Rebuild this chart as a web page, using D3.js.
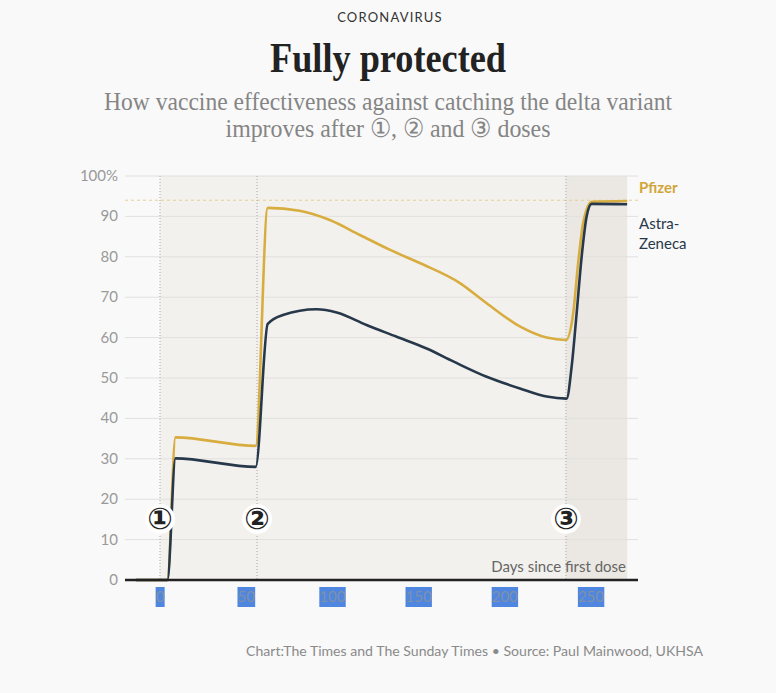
<!DOCTYPE html>
<html><head><meta charset="utf-8">
<script src="https://cdn.jsdelivr.net/npm/d3@7"></script>
<style>
body{margin:0;background:#f9f9f9;}
svg{display:block;}
</style></head>
<body>
<svg id="chart" width="776" height="693"></svg>
<script>
const pfizerDays = [-14, 4.3, 9, 55.5, 62.5, 81, 98.5, 116, 133.5, 151, 174, 189.5, 209, 224.3, 235.5, 239.7, 242.6, 245.5, 250.4, 271];
const pfizerValues = [0, 0, 35.3, 33.2, 92.1, 91.4, 89.1, 85.4, 81.7, 78.4, 73.5, 68.5, 62.7, 60, 59.4, 66, 78.5, 88.4, 93.6, 93.8];
const astraDays = [-14, 4.3, 9, 55.5, 62.5, 71.3, 90.9, 102.5, 119.8, 137.3, 154.7, 170.1, 189.5, 208.8, 224.3, 235.9, 238.8, 241.7, 244.6, 247.5, 250.4, 271];
const astraValues = [0, 0, 30.1, 28, 63.4, 65.6, 67, 66.2, 63.1, 60.2, 57.3, 54.1, 50.3, 47.4, 45.4, 44.9, 52.8, 66, 80, 90, 93.1, 93];
const yTicks = [0, 10, 20, 30, 40, 50, 60, 70, 80, 90, 100];
const xTicks = [0, 50, 100, 150, 200, 250];
const doseDays = [0, 56.3, 235.5];
const doseLabels = ["①", "②", "③"];
const shadeEnd = 271;
const referenceLevel = 94;

const svg = d3.select("#chart");
const x = d3.scaleLinear().domain([-20.3, 277.3]).range([125, 638]);
const y = d3.scaleLinear().domain([0, 100]).range([580, 176]);

// header
svg.append("text").attr("x", 390).attr("y", 22).attr("text-anchor", "middle")
  .attr("font-family", "Lato").attr("font-size", 13).attr("letter-spacing", 1.2)
  .attr("fill", "#333").text("CORONAVIRUS");
svg.append("text").attr("x", 388).attr("y", 72).attr("text-anchor", "middle")
  .attr("font-family", "Liberation Serif").attr("font-weight", "bold").attr("font-size", 42)
  .attr("textLength", 236).attr("lengthAdjust", "spacingAndGlyphs")
  .attr("fill", "#222").text("Fully protected");
svg.append("text").attr("x", 388).attr("y", 110).attr("text-anchor", "middle")
  .attr("font-family", "Liberation Serif").attr("font-size", 26)
  .attr("textLength", 568).attr("lengthAdjust", "spacingAndGlyphs")
  .attr("fill", "#858585").text("How vaccine effectiveness against catching the delta variant");
svg.append("text").attr("x", 388).attr("y", 137).attr("text-anchor", "middle")
  .attr("font-family", "Liberation Serif").attr("font-size", 26)
  .attr("textLength", 325).attr("lengthAdjust", "spacingAndGlyphs")
  .attr("fill", "#858585").text("improves after ①, ② and ③ doses");

// shading
svg.append("rect").attr("x", x(doseDays[0])).attr("y", y(100))
  .attr("width", x(doseDays[2]) - x(doseDays[0])).attr("height", y(0) - y(100)).attr("fill", "#f3f1ee");
svg.append("rect").attr("x", x(doseDays[2])).attr("y", y(100))
  .attr("width", x(shadeEnd) - x(doseDays[2])).attr("height", y(0) - y(100)).attr("fill", "#ebe8e3");

// grid
svg.append("g").selectAll("line").data(yTicks.filter(d => d > 0)).join("line")
  .attr("x1", 125).attr("x2", 638).attr("y1", d => y(d)).attr("y2", d => y(d))
  .attr("stroke", "#e2e0dd").attr("stroke-width", 1);
svg.append("g").selectAll("text").data(yTicks).join("text")
  .attr("x", 118).attr("y", d => y(d) + 5).attr("text-anchor", "end")
  .attr("font-family", "Lato").attr("font-size", 15).attr("fill", "#999")
  .text(d => d === 100 ? "100%" : d);

// reference dashed line
svg.append("line").attr("x1", 125).attr("x2", 638).attr("y1", y(referenceLevel)).attr("y2", y(referenceLevel))
  .attr("stroke", "#e6cd95").attr("stroke-width", 1).attr("stroke-dasharray", "3,3");

// dose lines
svg.append("g").selectAll("line").data(doseDays).join("line")
  .attr("x1", d => x(d)).attr("x2", d => x(d)).attr("y1", y(100)).attr("y2", y(0))
  .attr("stroke", "#aaa").attr("stroke-width", 1).attr("stroke-dasharray", "1,2");

// lines
const line = (days) => d3.line().x((d, i) => x(days[i])).y(d => y(d)).curve(d3.curveMonotoneX);
svg.append("path").attr("d", line(pfizerDays)(pfizerValues))
  .attr("fill", "none").attr("stroke", "#d8ad40").attr("stroke-width", 2.6);
svg.append("path").attr("d", line(astraDays)(astraValues))
  .attr("fill", "none").attr("stroke", "#26384a").attr("stroke-width", 2.6);

// axis line
svg.append("line").attr("x1", 125).attr("x2", 638).attr("y1", y(0)).attr("y2", y(0))
  .attr("stroke", "#222").attr("stroke-width", 2.5);

svg.append("text").attr("x", 626).attr("y", 572).attr("text-anchor", "end")
  .attr("font-family", "Lato").attr("font-size", 15).attr("fill", "#666").text("Days since first dose");

// dose markers
const dm = svg.append("g").selectAll("g").data(doseDays).join("g")
  .attr("transform", d => `translate(${x(d)},519)`);
dm.append("circle").attr("r", 15).attr("fill", "#fff");
dm.append("text").attr("y", 10).attr("text-anchor", "middle")
  .attr("font-family", "DejaVu Sans").attr("font-weight", "bold").attr("font-size", 30).attr("fill", "#222")
  .text((d, i) => doseLabels[i]);

// x tick labels with highlight
const xt = svg.append("g").selectAll("g").data(xTicks).join("g");
xt.append("text").attr("x", d => x(d)).attr("y", 602).attr("text-anchor", "middle")
  .attr("font-family", "Lato").attr("font-size", 15).attr("fill", "#7f90a8").text(d => d);
xt.each(function() {
  const g = d3.select(this);
  const b = g.select("text").node().getBBox();
  g.insert("rect", "text").attr("x", b.x).attr("y", 587).attr("width", b.width).attr("height", 20)
    .attr("fill", "#4f86e0");
});

// legend
svg.append("text").attr("x", 639).attr("y", 193).attr("font-family", "Lato").attr("font-weight", "bold")
  .attr("font-size", 15).attr("fill", "#d1a53a").text("Pfizer");
svg.append("text").attr("x", 639).attr("y", 229).attr("font-family", "Lato").attr("font-size", 15)
  .attr("fill", "#26384a").text("Astra-");
svg.append("text").attr("x", 639).attr("y", 249).attr("font-family", "Lato").attr("font-size", 15)
  .attr("fill", "#26384a").text("Zeneca");

// footer
svg.append("text").attr("x", 703).attr("y", 656).attr("text-anchor", "end")
  .attr("font-family", "Lato").attr("font-size", 14).attr("fill", "#8a8a8a")
  .attr("textLength", 457).attr("lengthAdjust", "spacingAndGlyphs")
  .text("Chart:The Times and The Sunday Times • Source: Paul Mainwood, UKHSA");
</script>
</body></html>
